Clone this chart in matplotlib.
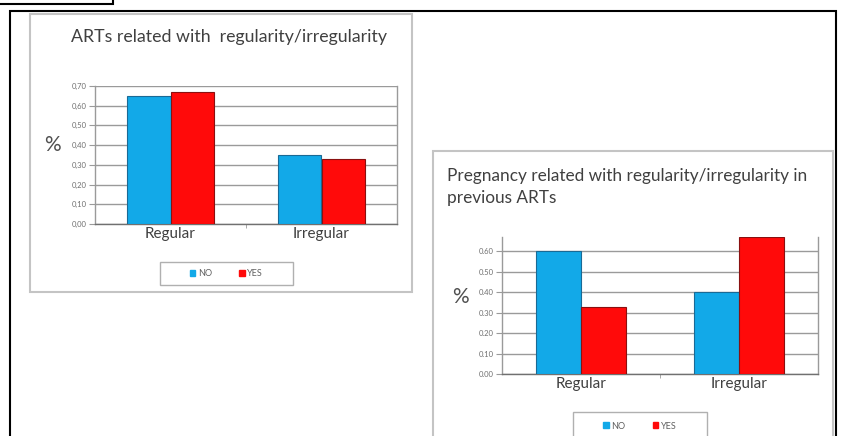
import matplotlib
matplotlib.use("Agg")
import matplotlib.pyplot as plt
from matplotlib.patches import Rectangle, Patch

plt.rcParams['font.family'] = ['Lato', 'DejaVu Sans']

# data
categories = ['Regular', 'Irregular']
series_names = ['NO', 'YES']
arts_no = [0.65, 0.35]
arts_yes = [0.67, 0.33]
preg_no = [0.60, 0.40]
preg_yes = [0.33, 0.67]
left_ticks = [0.0, 0.1, 0.2, 0.3, 0.4, 0.5, 0.6, 0.7]
right_ticks = [0.0, 0.1, 0.2, 0.3, 0.4, 0.5, 0.6]

W, H = 842, 436
blue = '#12a9e8'
red = '#ff0a0a'
blue_edge = '#1a6a95'
red_edge = '#8a1010'
grid_c = '#9a9a9a'
text_c = '#404040'


def px(x0, y0, x1, y1):
    # pixel box (top-left origin) -> figure fraction rect
    return [x0 / W, 1 - y1 / H, (x1 - x0) / W, (y1 - y0) / H]


def fig_rect(fig, x0, y0, x1, y1, **kw):
    r = Rectangle((x0 / W, 1 - y1 / H), (x1 - x0) / W, (y1 - y0) / H,
                  transform=fig.transFigure, fill=False, **kw)
    fig.patches.append(r)


def bar_chart(ax, no_vals, yes_vals, ticks, ymax, sep):
    x = range(len(categories))
    w = 0.285
    ax.bar([i - w / 2 for i in x], no_vals, w, color=blue,
           edgecolor=blue_edge, linewidth=0.8, zorder=3)
    ax.bar([i + w / 2 for i in x], yes_vals, w, color=red,
           edgecolor=red_edge, linewidth=0.8, zorder=3)
    ax.set_xlim(-0.5, len(categories) - 0.5)
    ax.set_ylim(0, ymax)
    ax.set_yticks(ticks)
    ax.set_yticklabels([f'{t:.2f}'.replace('.', sep) for t in ticks],
                       fontsize=5.5, color='#707070')
    ax.yaxis.grid(True, color=grid_c, linewidth=1.0, zorder=0)
    ax.set_axisbelow(True)
    ax.set_xticks(list(x))
    ax.set_xticklabels(categories, fontsize=11, color=text_c)
    ax.tick_params(axis='x', length=0, pad=2)
    ax.set_xticks([0.5], minor=True)
    ax.tick_params(axis='x', which='minor', length=3, color=grid_c)
    ax.tick_params(axis='y', length=4, color=grid_c, pad=2)
    for s in ['left', 'right', 'bottom']:
        ax.spines[s].set_color(grid_c)
        ax.spines[s].set_linewidth(1.0)
    ax.spines['bottom'].set_color('#707070')
    ax.spines['top'].set_visible(False)


def legend_box(fig, x0, y0, x1, y1):
    fig_rect(fig, x0, y0, x1, y1, edgecolor='#b0b0b0', linewidth=1.0)
    handles = [Patch(color=blue, label=series_names[0]),
               Patch(color=red, label=series_names[1])]
    fig.legend(handles=handles, loc='center',
               bbox_to_anchor=((x0 + x1) / 2 / W, 1 - (y0 + y1) / 2 / H),
               ncol=2, frameon=False, fontsize=6.5, handlelength=0.6,
               handleheight=0.6, handletextpad=0.3, columnspacing=3.0,
               labelcolor='#606060')


fig = plt.figure(figsize=(W / 100, H / 100), dpi=100)

# outer boxes
fig_rect(fig, -5, -5, 113, 4, edgecolor='black', linewidth=1.5)
fig_rect(fig, 10, 11, 836, 445, edgecolor='black', linewidth=1.5)

# left panel
fig_rect(fig, 30, 14, 412, 292, edgecolor='#c4c4c4', linewidth=1.5)
ax1 = fig.add_axes(px(95, 86, 397, 224))
bar_chart(ax1, arts_no, arts_yes, left_ticks, 0.70, ',')
fig.text(229 / W, 1 - 37 / H, 'ARTs related with  regularity/irregularity',
         ha='center', va='center', fontsize=12.8, color=text_c)
fig.text(52 / W, 1 - 145 / H, '%', ha='center', va='center',
         fontsize=15, color='#505050')
legend_box(fig, 160, 262, 293, 285)

# right panel
fig_rect(fig, 433, 151, 833, 445, edgecolor='#c4c4c4', linewidth=1.5)
ax2 = fig.add_axes(px(502, 237, 818, 374))
bar_chart(ax2, preg_no, preg_yes, right_ticks, 0.67, '.')
fig.text(447 / W, 1 - 187 / H,
         'Pregnancy related with regularity/irregularity in\nprevious ARTs',
         ha='left', va='center', fontsize=12.4, color=text_c,
         linespacing=1.45)
fig.text(460 / W, 1 - 297 / H, '%', ha='center', va='center',
         fontsize=15, color='#505050')
legend_box(fig, 573, 412, 707, 440)

fig.savefig('out.png', dpi=100)
